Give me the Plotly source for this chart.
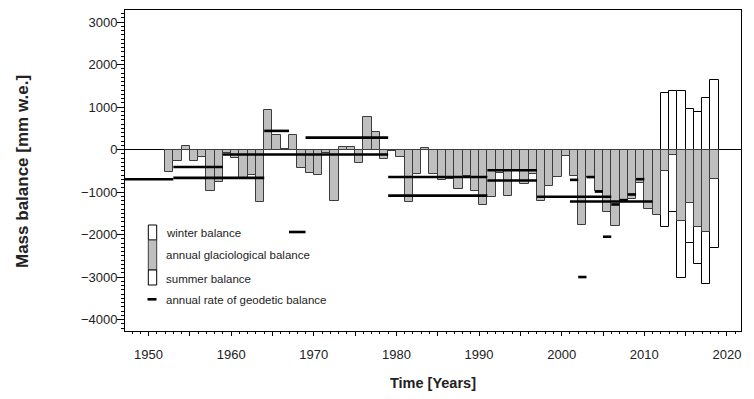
import plotly.graph_objects as go

# ---------------- data ----------------
years = list(range(1952, 2019))
annual = [
    -530, -275, 85, -270, -185, -970, -760, -90, -190, -690,      # 1952-1961
    -600, -1235, 925, 350, 20, 340, -423, -545, -595, -85,        # 1962-1971
    -1215, 58, 70, -305, 760, 414, -212, -40, -173, -1245,        # 1972-1981
    -564, 38, -564, -720, -690, -932, -627, -979, -1307, -1112,   # 1982-1991
    -549, -1096, -470, -815, -580, -1213, -854, -634, -157, -620, # 1992-2001
    -1777, -642, -985, -1479, -1800, -1185, -1165, -784, -1409, -1542,  # 2002-2011
    -502, -117, -1675, -1252, -1816, -1949, -681,                 # 2012-2018
]
seasonal_years = [2012, 2013, 2014, 2015, 2016, 2017, 2018]
winter = [1329, 1385, 1369, 962, 892, 1211, 1643]
summer = [-1831, -1479, -3029, -2207, -2700, -3155, -2317]

geo_start = [1936, 1953, 1953, 1959, 1964, 1967, 1969, 1979, 1979, 1991, 1991,
             1997, 2001, 2001, 2002, 2003, 2004, 2005, 2006, 2007, 2008, 2009]
geo_end = [1953, 1959, 1964, 1979, 1967, 1969, 1979, 1991, 1991, 1997, 1997,
           2006, 2011, 2002, 2003, 2004, 2005, 2006, 2007, 2008, 2009, 2010]
geo_value = [-700, -410, -665, -117, 440, -1940, 282, -645, -1085, -487, -728,
             -1111, -1222, -713, -3000, -647, -988, -2051, -1292, -1190, -1057, -697]

x_tickvals = [1950, 1955, 1960, 1965, 1970, 1975, 1980, 1985, 1990, 1995,
              2000, 2005, 2010, 2015, 2020]
x_ticktext = ["1950", "", "1960", "", "1970", "", "1980", "", "1990", "",
              "2000", "", "2010", "", "2020"]
y_tickvals = [3000, 2000, 1000, 0, -1000, -2000, -3000, -4000]
y_ticktext = ["3000", "2000", "1000", "0", "\u22121000", "\u22122000", "\u22123000", "\u22124000"]

legend_labels = ["winter balance", "annual glaciological balance",
                 "summer balance", "annual rate of geodetic balance"]

FONT = "Liberation Sans, Arial, sans-serif"
GREY = "#bfbfbf"
GREY_EDGE = "#3c3c3c"

fig = go.Figure()

# summer (white, from 0 down)
fig.add_trace(go.Bar(
    x=[y + 0.5 for y in seasonal_years], y=summer, width=1.0,
    marker=dict(color="white", line=dict(color="black", width=1)),
    showlegend=False, hoverinfo="x+y"))
# winter (white, from 0 up)
fig.add_trace(go.Bar(
    x=[y + 0.5 for y in seasonal_years], y=winter, width=1.0,
    marker=dict(color="white", line=dict(color="black", width=1)),
    showlegend=False, hoverinfo="x+y"))
# annual glaciological (grey)
fig.add_trace(go.Bar(
    x=[y + 0.5 for y in years], y=annual, width=1.0,
    marker=dict(color=GREY, line=dict(color=GREY_EDGE, width=1)),
    showlegend=False, hoverinfo="x+y"))

# geodetic rates
gx, gy = [], []
for s, e, v in zip(geo_start, geo_end, geo_value):
    gx += [s, e, None]
    gy += [v, v, None]
fig.add_trace(go.Scatter(x=gx, y=gy, mode="lines",
                         line=dict(color="black", width=2.6),
                         showlegend=False, hoverinfo="skip"))

# ---------------- layout geometry (screen px; page has 8px body offset) ----------------
OFF = 8
PL, PT, PR, PB = 125, 10, 741, 331          # plot box on screen
W, H = 754, 399
ML, MT = PL - OFF, PT - OFF
MR, MB = W - (PR - OFF), H - (PB - OFF)
PW, PH = PR - PL, PB - PT

def px(xs):
    return (xs - PL) / PW
def py(ys):
    return (PB - ys) / PH

shapes = [
    dict(type="rect", xref="paper", yref="paper", x0=px(148.3), x1=px(156.7),
         y0=py(240), y1=py(225), fillcolor="white", line=dict(color="black", width=1)),
    dict(type="rect", xref="paper", yref="paper", x0=px(148.3), x1=px(156.7),
         y0=py(270), y1=py(240), fillcolor=GREY, line=dict(color=GREY_EDGE, width=1)),
    dict(type="rect", xref="paper", yref="paper", x0=px(148.3), x1=px(156.7),
         y0=py(285), y1=py(270), fillcolor="white", line=dict(color="black", width=1)),
    dict(type="line", xref="paper", yref="paper", x0=px(147.5), x1=px(156.5),
         y0=py(299.3), y1=py(299.3), line=dict(color="black", width=2.6)),
]
annotations = []
for lbl, yy in zip(legend_labels, [233, 254.5, 278.5, 299.5]):
    annotations.append(dict(text=lbl, xref="paper", yref="paper", x=px(164), y=py(yy),
                            xanchor="left", yanchor="middle", showarrow=False,
                            font=dict(family=FONT, size=11.5, color="#222")))
annotations.append(dict(text="<b>Time [Years]</b>", xref="paper", yref="paper",
                        x=0.5, y=py(383), xanchor="center", yanchor="middle",
                        showarrow=False, font=dict(family=FONT, size=14.5, color="#222")))
annotations.append(dict(text="<b>Mass balance [mm w.e.]</b>", xref="paper", yref="paper",
                        x=px(22), y=py(172), xanchor="center", yanchor="middle",
                        textangle=-90, showarrow=False,
                        font=dict(family=FONT, size=17, color="#222")))

fig.update_layout(
    width=W, height=H,
    margin=dict(l=ML, r=MR, t=MT, b=MB, autoexpand=False),
    paper_bgcolor="white", plot_bgcolor="white",
    barmode="overlay", bargap=0,
    showlegend=False,
    shapes=shapes, annotations=annotations,
    font=dict(family=FONT, size=13, color="#222"),
)
fig.update_xaxes(
    range=[1947.15, 2021.7],
    tickmode="array", tickvals=x_tickvals, ticktext=x_ticktext,
    ticks="outside", ticklen=4, tickwidth=1, tickcolor="black",
    minor=dict(tickmode="linear", tick0=1950, dtick=1, ticks="outside",
               ticklen=2, tickcolor="black", showgrid=False),
    showline=True, linecolor="black", linewidth=1, mirror=True,
    showgrid=False, zeroline=False, ticklabelstandoff=7,
    tickfont=dict(family=FONT, size=13, color="#222"),
)
fig.update_yaxes(
    range=[-4270, 3285],
    tickmode="array", tickvals=y_tickvals, ticktext=y_ticktext,
    ticks="outside", ticklen=7, tickwidth=1, tickcolor="black",
    minor=dict(tickmode="linear", tick0=0, dtick=100, ticks="outside",
               ticklen=3, tickcolor="black", showgrid=False),
    showline=True, linecolor="black", linewidth=1, mirror=True,
    showgrid=False, zeroline=True, zerolinecolor="black", zerolinewidth=1,
    ticklabelstandoff=-3,
    tickfont=dict(family=FONT, size=13, color="#222"),
)

fig.write_html("out.html")
